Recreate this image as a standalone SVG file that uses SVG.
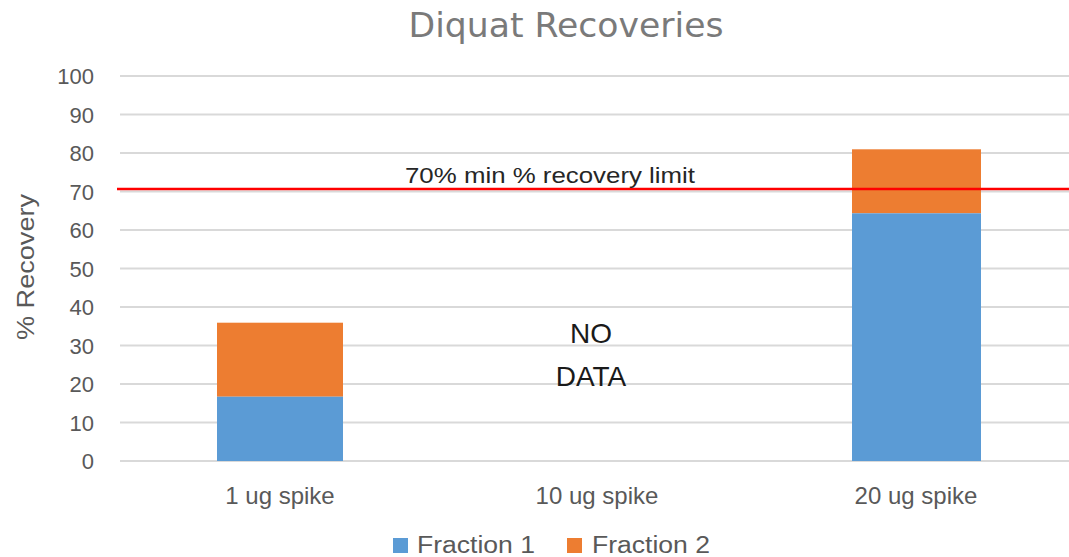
<svg xmlns="http://www.w3.org/2000/svg" width="1069" height="557" viewBox="0 0 1069 557">
<style>
.grid{stroke:#d9d9d9;stroke-width:2}
.tick{font-family:"Liberation Sans",Arial,sans-serif;font-size:22px;fill:#595959;text-anchor:end}
.cat{font-family:"Liberation Sans",Arial,sans-serif;font-size:24px;fill:#595959;text-anchor:middle}
.f1{fill:#5b9bd5}
.f2{fill:#ed7d31}
.lg{font-family:"Liberation Sans",Arial,sans-serif;font-size:23px;fill:#595959}
.nd{font-family:"Liberation Sans",Arial,sans-serif;font-size:28px;fill:#1a1a1a;text-anchor:middle}
</style>
<rect width="1069" height="557" fill="#ffffff"/>
<text x="566" y="37" font-family="DejaVu Sans,Verdana,sans-serif" font-size="34" fill="#7a7a7a" text-anchor="middle" textLength="315" lengthAdjust="spacingAndGlyphs">Diquat Recoveries</text>
<g id="gridlines">
<line class="grid" x1="120" y1="76" x2="1069" y2="76"/>
<line class="grid" x1="120" y1="114.5" x2="1069" y2="114.5"/>
<line class="grid" x1="120" y1="153" x2="1069" y2="153"/>
<line class="grid" x1="120" y1="191.5" x2="1069" y2="191.5"/>
<line class="grid" x1="120" y1="230" x2="1069" y2="230"/>
<line class="grid" x1="120" y1="268.5" x2="1069" y2="268.5"/>
<line class="grid" x1="120" y1="307" x2="1069" y2="307"/>
<line class="grid" x1="120" y1="345.5" x2="1069" y2="345.5"/>
<line class="grid" x1="120" y1="384" x2="1069" y2="384"/>
<line class="grid" x1="120" y1="422.5" x2="1069" y2="422.5"/>
<line class="grid" x1="120" y1="461" x2="1069" y2="461"/>
</g>
<g id="yticks">
<text class="tick" x="94" y="84">100</text>
<text class="tick" x="94" y="122.5">90</text>
<text class="tick" x="94" y="161">80</text>
<text class="tick" x="94" y="199.5">70</text>
<text class="tick" x="94" y="238">60</text>
<text class="tick" x="94" y="276.5">50</text>
<text class="tick" x="94" y="315">40</text>
<text class="tick" x="94" y="353.5">30</text>
<text class="tick" x="94" y="392">20</text>
<text class="tick" x="94" y="430.5">10</text>
<text class="tick" x="94" y="469">0</text>
</g>
<text transform="translate(34,267) rotate(-90)" font-family="Liberation Sans,Arial,sans-serif" font-size="24" fill="#595959" text-anchor="middle" textLength="146" lengthAdjust="spacingAndGlyphs">% Recovery</text>
<g id="bar-1ug">
<rect class="f2" x="217" y="322.7" width="126" height="74"/>
<rect class="f1" x="217" y="396.7" width="126" height="64.3"/>
</g>
<g id="bar-20ug">
<rect class="f2" x="852" y="149.3" width="129" height="64"/>
<rect class="f1" x="852" y="213.3" width="129" height="247.7"/>
</g>
<g id="limit">
<line x1="117" y1="189" x2="1069" y2="189" stroke="#ff0000" stroke-width="2.5"/>
<text x="550" y="183" font-family="Liberation Sans,Arial,sans-serif" font-size="22" fill="#262626" text-anchor="middle" textLength="290" lengthAdjust="spacingAndGlyphs">70% min % recovery limit</text>
</g>
<g id="nodata">
<text class="nd" x="591" y="343">NO</text>
<text class="nd" x="591" y="386">DATA</text>
</g>
<g id="xlabels">
<text class="cat" x="280" y="504">1 ug spike</text>
<text class="cat" x="597" y="504">10 ug spike</text>
<text class="cat" x="916" y="504">20 ug spike</text>
</g>
<g id="legend">
<rect class="f1" x="393" y="538" width="15" height="15"/>
<text class="lg" x="417" y="553" textLength="118" lengthAdjust="spacingAndGlyphs">Fraction 1</text>
<rect class="f2" x="567" y="538" width="15" height="15"/>
<text class="lg" x="592" y="553" textLength="118" lengthAdjust="spacingAndGlyphs">Fraction 2</text>
</g>
</svg>
